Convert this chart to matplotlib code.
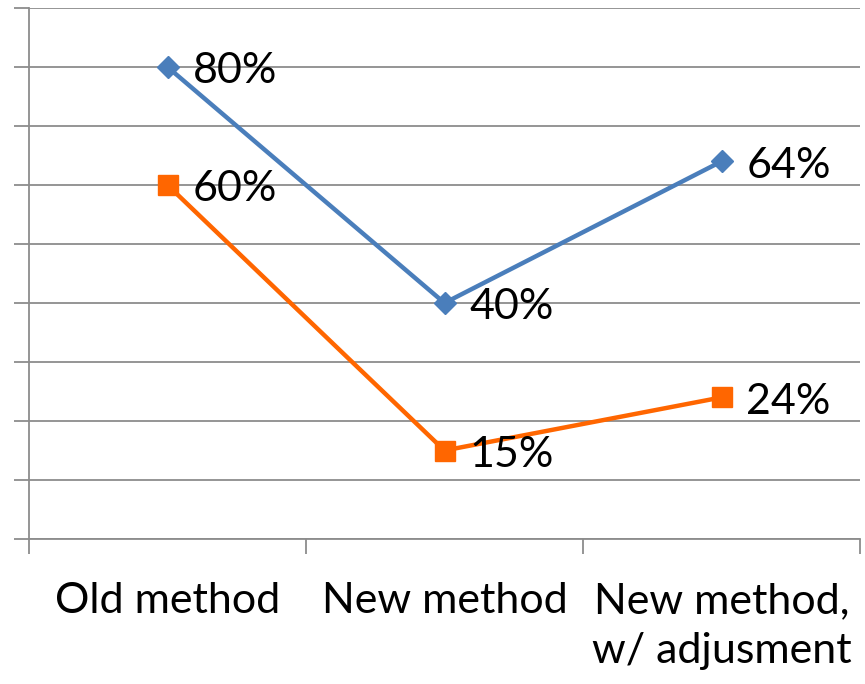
import matplotlib.pyplot as plt

# categories and the two series (fractions)
categories = ['Old method', 'New method', 'New method,\nw/ adjusment']
blue_vals = [0.80, 0.40, 0.64]
orange_vals = [0.60, 0.15, 0.24]

plt.rcParams['font.family'] = ['Lato', 'DejaVu Sans']

fig = plt.figure(figsize=(8.65, 6.84), dpi=100)
ax = fig.add_axes([29 / 865, 145 / 684, 831 / 865, 531 / 684])

grid_col = '#8c8c8c'
x = list(range(len(categories)))

ax.plot(x, blue_vals, color='#4a7ebb', linewidth=3.2, marker='D', markersize=11,
        zorder=3, clip_on=False)
ax.plot(x, orange_vals, color='#ff6600', linewidth=3.2, marker='s', markersize=14,
        zorder=3, clip_on=False)

# value labels to the right of each point
for xs, ys in [(x, blue_vals), (x, orange_vals)]:
    for a, b in zip(xs, ys):
        ax.annotate('{:.0f}%'.format(b * 100), (a, b), xytext=(18, -3),
                    textcoords='offset points', ha='left', va='center',
                    fontsize=31, color='black', zorder=4)

ax.set_xlim(-0.5, 2.5)
ax.set_ylim(0, 0.9)
ax.set_yticks([i / 10 for i in range(10)])
ax.set_yticklabels([])
ax.yaxis.grid(True, color=grid_col, linewidth=1.3)
ax.set_axisbelow(True)

# category ticks sit on the boundaries between groups
ax.set_xticks([-0.5, 0.5, 1.5, 2.5])
ax.set_xticklabels([])
ax.set_xticks(x, minor=True)
ax.set_xticklabels(categories, minor=True, fontsize=31, linespacing=1.4)
ax.tick_params(axis='x', which='minor', length=0, pad=31)
ax.tick_params(axis='both', which='major', length=11, width=1.3, color=grid_col,
               direction='out')

for side in ['top', 'right']:
    ax.spines[side].set_visible(False)
ax.spines['left'].set_color(grid_col)
ax.spines['left'].set_linewidth(1.3)
ax.spines['bottom'].set_color(grid_col)
ax.spines['bottom'].set_linewidth(1.3)

plt.savefig('out.png', dpi=100)
